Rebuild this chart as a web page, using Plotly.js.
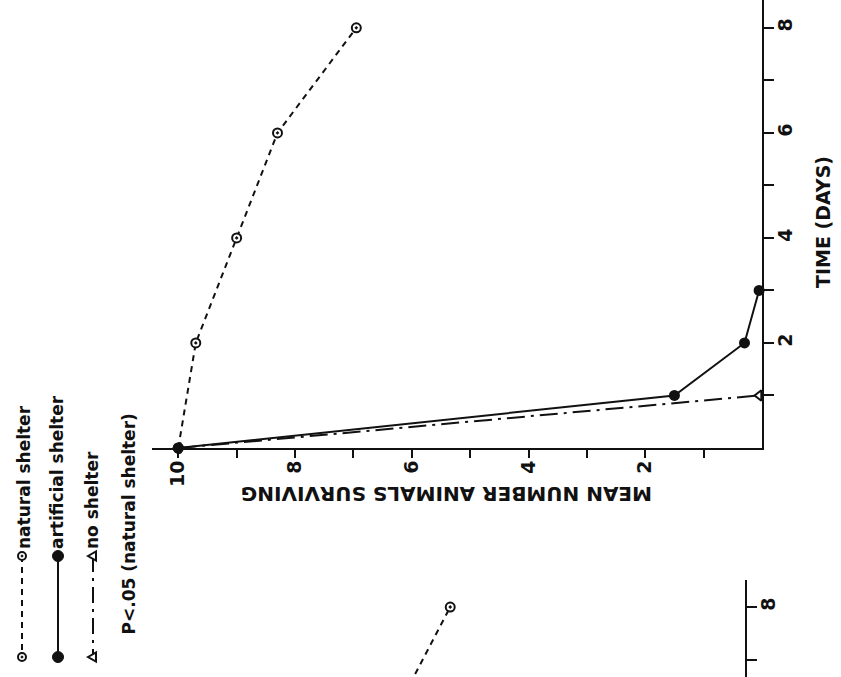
<!DOCTYPE html>
<html>
<head>
<meta charset="utf-8">
<script src="https://cdn.plot.ly/plotly-3.0.1.min.js"></script>
<style>
  html, body { margin: 0; padding: 0; background: #ffffff; overflow: hidden; }
  #chart { width: 841px; height: 677px; }
</style>
</head>
<body>
<div id="chart"></div>
<script>
// ---- data ----
const naturalTime = [0, 2, 4, 6, 8];
const naturalMean = [10, 9.7, 9.0, 8.3, 6.95];
const artificialTime = [0, 1, 2, 3];
const artificialMean = [10, 1.5, 0.3, 0.05];
const noShelterTime = [0, 1];
const noShelterMean = [10, 0.05];
// second (partly visible) panel, natural shelter
const natural2Time = [6, 8];
const natural2Mean = [6.0, 5.05];

const meanTickVals = [1, 2, 3, 4, 5, 6, 7, 8, 9, 10];
const meanTickText = ['', '2', '', '4', '', '6', '', '8', '', '10'];
const timeTickVals = [1, 2, 3, 4, 5, 6, 7, 8];
const timeTickText = ['', '2', '', '4', '', '6', '', '8'];

const seriesNames = ['natural shelter', 'artificial shelter', 'no shelter'];
const meanTitle = 'MEAN NUMBER ANIMALS SURVIVING';
const timeTitle = 'TIME (DAYS)';
const pNote = 'P<.05 (natural shelter)';

// ---- layout helpers ----
const W = 841, H = 677;
const px = v => v / W;
const py = v => 1 - v / H;
const INK = '#111111';
const tickFont = { family: 'DejaVu Sans, sans-serif', size: 19, color: INK, weight: 'bold' };
const titleFont = { family: 'DejaVu Sans, sans-serif', size: 20, color: INK, weight: 'bold' };
const legFont = { family: 'DejaVu Sans, sans-serif', size: 17, color: INK, weight: 'bold' };

const naturalStyle = { line: { color: INK, width: 2, dash: '6px,5px' },
  marker: { symbol: 'circle-dot', size: 9, color: '#ffffff', line: { color: INK, width: 2 } } };
const artificialStyle = { line: { color: INK, width: 2 },
  marker: { symbol: 'circle', size: 11, color: INK } };
const noShelterStyle = { line: { color: INK, width: 2, dash: '18px,6px,3px,6px' },
  marker: { symbol: 'triangle-left-open', size: 9, color: INK, line: { color: INK, width: 2 } } };

const traces = [
  Object.assign({ type: 'scatter', mode: 'lines+markers', name: seriesNames[2], x: noShelterMean, y: noShelterTime, xaxis: 'x', yaxis: 'y', cliponaxis: false }, noShelterStyle),
  Object.assign({ type: 'scatter', mode: 'lines+markers', name: seriesNames[0], x: naturalMean, y: naturalTime, xaxis: 'x', yaxis: 'y', cliponaxis: false }, naturalStyle),
  Object.assign({ type: 'scatter', mode: 'lines+markers', name: seriesNames[1], x: artificialMean, y: artificialTime, xaxis: 'x', yaxis: 'y', cliponaxis: false }, artificialStyle),
  Object.assign({ type: 'scatter', mode: 'lines+markers', name: seriesNames[0] + ' (2)', x: natural2Mean, y: natural2Time, xaxis: 'x2', yaxis: 'y2', cliponaxis: true }, naturalStyle)
];

const axisCommon = {
  showline: true, linecolor: INK, linewidth: 2, mirror: false,
  ticks: 'outside', tickcolor: INK, tickwidth: 2,
  showgrid: false, zeroline: false, tickangle: -90, tickfont: tickFont,
  ticklabelstandoff: -5,
  automargin: false, fixedrange: true
};

// legend samples (decoration, drawn as shapes)
const legendCols = [22, 58, 93];
const legTop = 556, legBot = 657;
const shapes = [];
const dashes = ['6px,5px', 'solid', '16px,6px,3px,6px'];
legendCols.forEach((cx, i) => {
  shapes.push({ type: 'line', xref: 'paper', yref: 'paper', x0: px(cx), x1: px(cx), y0: py(legTop), y1: py(legBot),
    line: { color: INK, width: 2, dash: dashes[i] } });
  [legTop, legBot].forEach(cy => {
    if (i === 0) {
      shapes.push({ type: 'circle', xref: 'paper', yref: 'paper', x0: px(cx - 4), x1: px(cx + 4), y0: py(cy - 4), y1: py(cy + 4),
        line: { color: INK, width: 2 }, fillcolor: '#ffffff' });
      shapes.push({ type: 'circle', xref: 'paper', yref: 'paper', x0: px(cx - 1), x1: px(cx + 1), y0: py(cy - 1), y1: py(cy + 1),
        line: { color: INK, width: 1 }, fillcolor: INK });
    } else if (i === 1) {
      shapes.push({ type: 'circle', xref: 'paper', yref: 'paper', x0: px(cx - 5.5), x1: px(cx + 5.5), y0: py(cy - 5.5), y1: py(cy + 5.5),
        line: { color: INK, width: 1 }, fillcolor: INK });
    } else {
      shapes.push({ type: 'path', xref: 'paper', yref: 'paper',
        path: 'M ' + px(cx - 5) + ' ' + py(cy) + ' L ' + px(cx + 3) + ' ' + py(cy - 4.5) + ' L ' + px(cx + 3) + ' ' + py(cy + 4.5) + ' Z',
        line: { color: INK, width: 2 }, fillcolor: '#ffffff' });
    }
  });
});

const annotations = [
  { text: meanTitle, xref: 'paper', yref: 'paper', x: px(447), y: py(494), xanchor: 'center', yanchor: 'middle', textangle: 180, showarrow: false, font: titleFont },
  { text: timeTitle, xref: 'paper', yref: 'paper', x: px(823), y: py(222), xanchor: 'center', yanchor: 'middle', textangle: -90, showarrow: false, font: Object.assign({}, titleFont, { size: 19 }) },
  { text: seriesNames[0], xref: 'paper', yref: 'paper', x: px(24), y: py(551), xanchor: 'center', yanchor: 'bottom', textangle: -90, showarrow: false, font: legFont },
  { text: seriesNames[1], xref: 'paper', yref: 'paper', x: px(57), y: py(551), xanchor: 'center', yanchor: 'bottom', textangle: -90, showarrow: false, font: legFont },
  { text: seriesNames[2], xref: 'paper', yref: 'paper', x: px(92), y: py(551), xanchor: 'center', yanchor: 'bottom', textangle: -90, showarrow: false, font: legFont },
  { text: pNote, xref: 'paper', yref: 'paper', x: px(128), y: py(636), xanchor: 'center', yanchor: 'bottom', textangle: -90, showarrow: false, font: legFont }
];

const layout = {
  width: W, height: H,
  margin: { l: 0, r: 0, t: 0, b: 0, pad: 0 },
  paper_bgcolor: '#ffffff', plot_bgcolor: 'rgba(0,0,0,0)',
  showlegend: false,
  xaxis: Object.assign({}, axisCommon, { domain: [px(152), px(762)], range: [10.45, 0], anchor: 'y', side: 'bottom', ticklen: 8,
    tickmode: 'array', tickvals: meanTickVals, ticktext: meanTickText }),
  yaxis: Object.assign({}, axisCommon, { domain: [py(448), 1], range: [0, 8.53], anchor: 'x', side: 'right', ticklen: 10,
    tickmode: 'array', tickvals: timeTickVals, ticktext: timeTickText }),
  xaxis2: { domain: [px(135), px(745)], range: [10.45, 0], anchor: 'y2', visible: false, fixedrange: true },
  yaxis2: Object.assign({}, axisCommon, { domain: [0, py(580)], range: [6.68, 8.51], anchor: 'x2', side: 'right', ticklen: 10,
    tickmode: 'array', tickvals: timeTickVals, ticktext: timeTickText }),
  shapes: shapes,
  annotations: annotations
};

Plotly.newPlot('chart', traces, layout, { displayModeBar: false, staticPlot: true });
</script>
</body>
</html>
